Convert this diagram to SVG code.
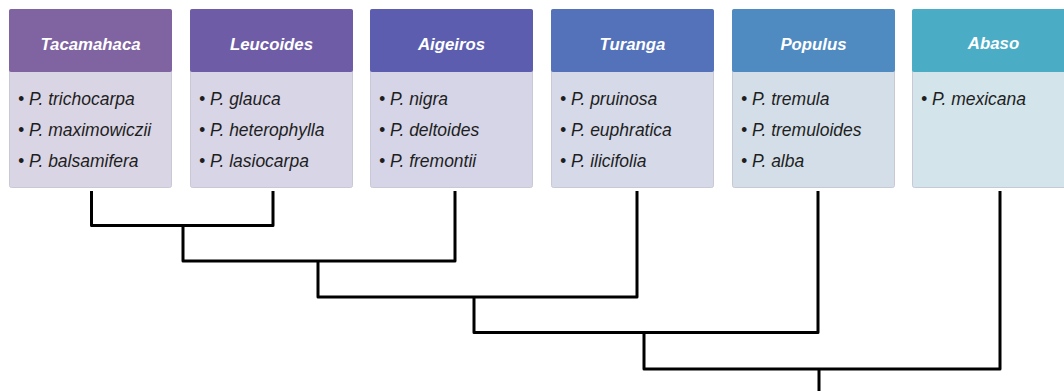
<svg xmlns="http://www.w3.org/2000/svg" width="1064" height="391" viewBox="0 0 1064 391">
<style>
.hd{font-family:"Liberation Sans",Arial,sans-serif;font-size:16.8px;font-weight:bold;font-style:italic;fill:#ffffff;text-anchor:middle}
.it{font-family:"Liberation Sans",Arial,sans-serif;font-size:17.5px;font-style:italic;fill:#1e1e1e}
.body{stroke:#c9c9d6;stroke-width:1}
.ln{fill:none;stroke:#000000;stroke-width:3;stroke-linejoin:round;stroke-linecap:butt}
</style>
<rect width="1064" height="391" fill="#ffffff"/>
<g id="tacamahaca">
<rect class="body" x="9.5" y="9.5" width="162" height="178" rx="2" fill="#dad5e4"/>
<rect x="9" y="9" width="163" height="63" rx="2" fill="#8063a1"/>
<text class="hd" x="90.5" y="50">Tacamahaca</text>
<text class="it" x="18" y="105">• P. trichocarpa</text>
<text class="it" x="18" y="136">• P. maximowiczii</text>
<text class="it" x="18" y="166.5">• P. balsamifera</text>
</g>
<g id="leucoides">
<rect class="body" x="190.5" y="9.5" width="162" height="178" rx="2" fill="#d7d5e6"/>
<rect x="190" y="9" width="163" height="63" rx="2" fill="#6e5da6"/>
<text class="hd" x="271.5" y="50">Leucoides</text>
<text class="it" x="199" y="105">• P. glauca</text>
<text class="it" x="199" y="136">• P. heterophylla</text>
<text class="it" x="199" y="166.5">• P. lasiocarpa</text>
</g>
<g id="aigeiros">
<rect class="body" x="370.5" y="9.5" width="162" height="178" rx="2" fill="#d5d5e7"/>
<rect x="370" y="9" width="163" height="63" rx="2" fill="#5c5dae"/>
<text class="hd" x="451.5" y="50">Aigeiros</text>
<text class="it" x="379" y="105">• P. nigra</text>
<text class="it" x="379" y="136">• P. deltoides</text>
<text class="it" x="379" y="166.5">• P. fremontii</text>
</g>
<g id="turanga">
<rect class="body" x="551.5" y="9.5" width="162" height="178" rx="2" fill="#d5d9e8"/>
<rect x="551" y="9" width="163" height="63" rx="2" fill="#5472ba"/>
<text class="hd" x="632.5" y="50">Turanga</text>
<text class="it" x="560" y="105">• P. pruinosa</text>
<text class="it" x="560" y="136">• P. euphratica</text>
<text class="it" x="560" y="166.5">• P. ilicifolia</text>
</g>
<g id="populus">
<rect class="body" x="732.5" y="9.5" width="162" height="178" rx="2" fill="#d4dee8"/>
<rect x="732" y="9" width="163" height="63" rx="2" fill="#4f8ac1"/>
<text class="hd" x="813.5" y="50">Populus</text>
<text class="it" x="741" y="105">• P. tremula</text>
<text class="it" x="741" y="136">• P. tremuloides</text>
<text class="it" x="741" y="166.5">• P. alba</text>
</g>
<g id="abaso">
<rect class="body" x="912.5" y="9.5" width="162" height="178" rx="2" fill="#d3e4ea"/>
<rect x="912" y="9" width="163" height="63" rx="2" fill="#4bacc6"/>
<text class="hd" x="993.5" y="49">Abaso</text>
<text class="it" x="921" y="105">• P. mexicana</text>
</g>
<g id="connectors">
<path class="ln" d="M91.5 191 V225.5 H273 V191"/>
<path class="ln" d="M183 225.5 V261 H455 V191"/>
<path class="ln" d="M318 261 V297 H637 V191"/>
<path class="ln" d="M474 297 V332.5 H818 V191"/>
<path class="ln" d="M644 332.5 V369 H1000 V191"/>
<path class="ln" d="M819 369 V391"/>
</g>
</svg>
